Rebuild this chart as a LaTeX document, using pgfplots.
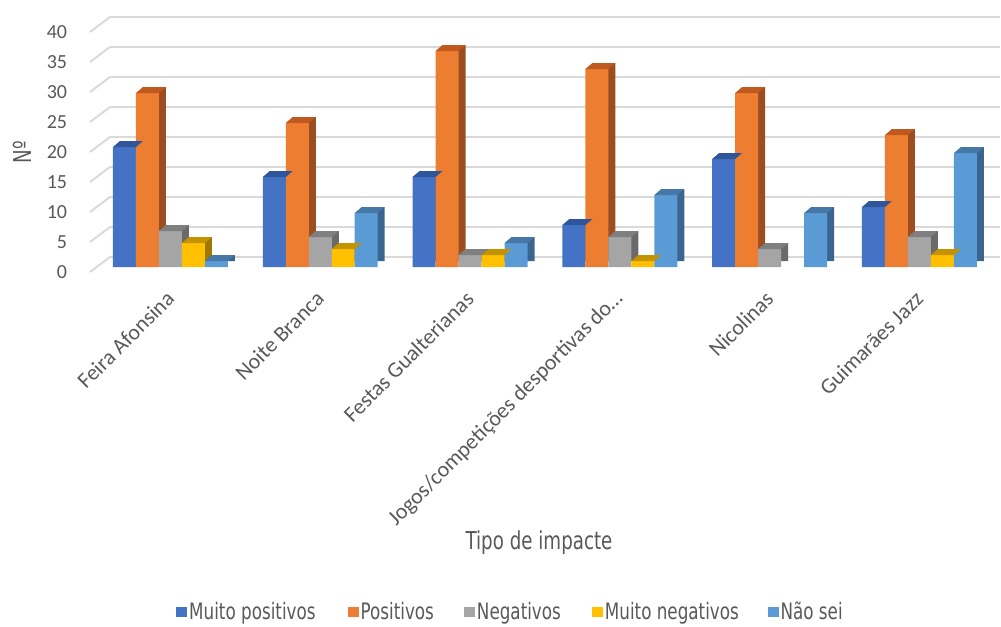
\documentclass[border=0pt]{standalone}
\usepackage{fontspec}
\setmainfont{Carlito}
\newfontfamily\condfont{DejaVu Sans}[FakeStretch=0.74]
\usepackage{pgfplots}
\pgfplotsset{compat=1.18}

\definecolor{textgray}{HTML}{595959}
\definecolor{gridc}{HTML}{D9D9D9}
\definecolor{cA}{HTML}{4472C4}\definecolor{cAt}{HTML}{2F559A}\definecolor{cAs}{HTML}{2B4C86}
\definecolor{cB}{HTML}{ED7D31}\definecolor{cBt}{HTML}{C0591E}\definecolor{cBs}{HTML}{9C4E20}
\definecolor{cC}{HTML}{A5A5A5}\definecolor{cCt}{HTML}{7F7F7F}\definecolor{cCs}{HTML}{6A6A6A}
\definecolor{cD}{HTML}{FFC000}\definecolor{cDt}{HTML}{C49300}\definecolor{cDs}{HTML}{A07800}
\definecolor{cE}{HTML}{5B9BD5}\definecolor{cEt}{HTML}{4677A6}\definecolor{cEs}{HTML}{3A6590}

% top face of a 3D column: parallelogram on the bar top (bar width 17.25pt, depth 5.25pt x 4.5pt)
\pgfdeclareplotmark{top3d}{%
  \pgfpathmoveto{\pgfpoint{-8.625pt}{0pt}}%
  \pgfpathlineto{\pgfpoint{8.625pt}{0pt}}%
  \pgfpathlineto{\pgfpoint{13.875pt}{4.5pt}}%
  \pgfpathlineto{\pgfpoint{-3.375pt}{4.5pt}}%
  \pgfpathclose
  \pgfusepath{fill}}

% #1 front, #2 top, #3 side, #4 bar shift, #5 coordinates
\newcommand\barseries[5]{%
  \addplot[forget plot, ybar, bar width=0.1535, bar shift=#4, fill=#3, draw=none,
    xshift=5.25pt, yshift=4.5pt] coordinates {#5};
  \addplot[ybar, bar width=0.1535, bar shift=#4, fill=#1, draw=none,
    legend image code/.code={\fill[#1] (0pt,-3.75pt) rectangle (8.25pt,3.75pt);}]
    coordinates {#5};
  \addplot[forget plot, only marks, mark=top3d, mark options={fill=#2, draw=none},
    x filter/.expression={x+#4}] coordinates {#5};
}

\begin{document}
\begin{tikzpicture}
\useasboundingbox (-67.5pt,-269.25pt) rectangle (683.25pt,200.25pt);
\begin{axis}[
  scale only axis, width=667.5pt, height=180pt,
  at={(0pt,0pt)}, anchor=south west,
  xmin=-0.537, xmax=5.404, ymin=0, ymax=40,
  clip=false,
  axis line style={draw=none}, tick style={draw=none},
  ytick={0,5,...,40},
  ymajorgrids, major grid style={gridc, line width=1.5pt, xshift=15pt, yshift=7.5pt},
  xtick={0,1,2,3,4,5},
  xticklabels={Feira Afonsina, Noite Branca, Festas Gualterianas,
    Jogos/competições desportivas do…, Nicolinas, Guimarães Jazz},
  /pgf/number format/assume math mode=true,
  yticklabel style={font=\fontsize{15}{15}\selectfont, text=textgray,
    anchor=east, inner sep=0pt, xshift=-17pt, yshift=-3.75pt},
  xticklabel style={font=\fontsize{16.5}{16.5}\selectfont, text=textgray,
    inner sep=0pt, yshift=-21pt, rotate=45, anchor=east},
  xlabel={Tipo de impacte},
  xlabel style={at={(axis description cs:0.5045,-1.15)}, anchor=center,
    font=\condfont\fontsize{18.5}{20}\selectfont, text=textgray},
  ylabel={Nº},
  ylabel style={at={(axis description cs:-0.0764,0.479)}, anchor=center,
    font=\condfont\fontsize{18.5}{20}\selectfont, text=textgray},
  legend columns=5,
  legend style={at={(axis description cs:0.4713,-1.4375)}, anchor=center,
    draw=none, fill=none, font=\condfont\fontsize{17}{18}\selectfont,
    text=textgray, inner sep=0pt, nodes={inner sep=0pt},
    /tikz/every odd column/.append style={column sep=1.5pt},
    /tikz/every even column/.append style={column sep=0pt}},
]
\pgfplotsinvokeforeach{0,5,10,15,20,25,30,35,40}{
  \draw[gridc, line width=1.5pt] (axis cs:-0.537,#1) ++(0pt,-3.75pt) -- ++(15pt,11.25pt);
}
\barseries{cA}{cAt}{cAs}{-0.307}{(0,20)(1,15)(2,15)(3,7)(4,18)(5,10)}
\barseries{cB}{cBt}{cBs}{-0.1535}{(0,29)(1,24)(2,36)(3,33)(4,29)(5,22)}
\barseries{cC}{cCt}{cCs}{0}{(0,6)(1,5)(2,2)(3,5)(4,3)(5,5)}
\barseries{cD}{cDt}{cDs}{0.1535}{(0,4)(1,3)(2,2)(3,1)(5,2)}
\barseries{cE}{cEt}{cEs}{0.307}{(0,1)(1,9)(2,4)(3,12)(4,9)(5,19)}
\legend{Muito positivos\hspace*{24pt}\hbox{}, Positivos\hspace*{22.5pt}\hbox{}, Negativos\hspace*{23.25pt}\hbox{}, Muito negativos\hspace*{21.5pt}\hbox{}, Não sei}
\end{axis}
\end{tikzpicture}
\end{document}
